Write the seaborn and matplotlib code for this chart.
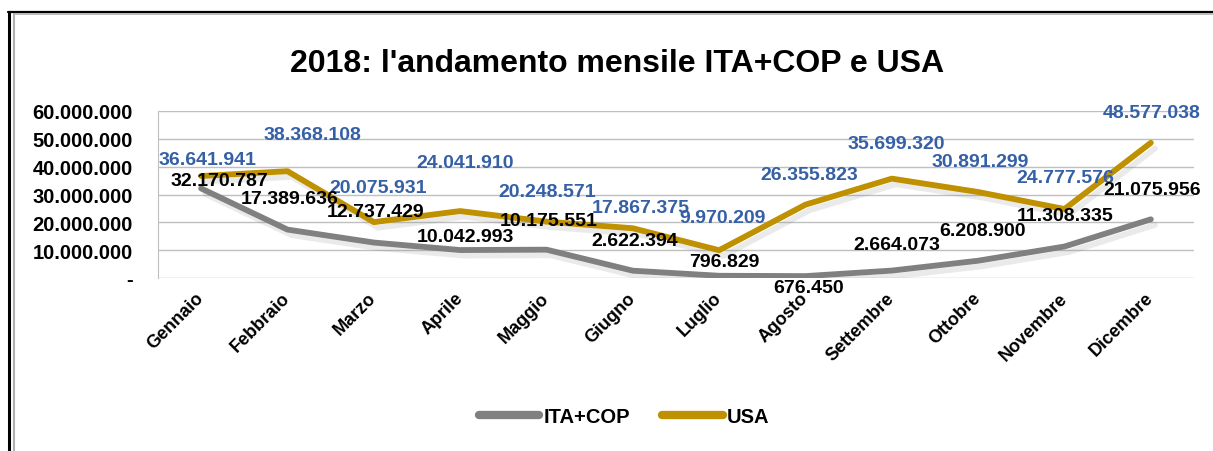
import numpy as np
import pandas as pd
import seaborn as sns
import matplotlib.pyplot as plt
import matplotlib.patheffects as pe
import matplotlib.transforms as mtransforms
from matplotlib.lines import Line2D
from matplotlib.ticker import FuncFormatter

# ----------------------
# Data
# ----------------------
mesi = ["Gennaio", "Febbraio", "Marzo", "Aprile", "Maggio", "Giugno",
        "Luglio", "Agosto", "Settembre", "Ottobre", "Novembre", "Dicembre"]
ita_cop = [32170787, 17389636, 12737429, 10042993, 10175551, 2622394,
           796829, 676450, 2664073, 6208900, 11308335, 21075956]
usa = [36641941, 38368108, 20075931, 24041910, 20248571, 17867375,
       9970209, 26355823, 35699320, 30891299, 24777576, 48577038]
y_ticks = [0, 10000000, 20000000, 30000000, 40000000, 50000000, 60000000]

# label offsets in pixels (dx, dy down), placed by hand like in the excel sheet
usa_off = [(6, -17), (25, -37), (4, -35), (5, -49), (1, -30), (8, -21),
           (3, -33), (4, -30), (4, -35), (2, -31), (1, -32), (1, -30)]
ita_off = [(18, -8), (2, -31), (2, -31), (5, -14), (2, -29), (2, -30),
           (5, -14), (3, 11), (5, -26), (4, -30), (1, -31), (1, -30)]

GRAY = "#808080"
GOLD = "#BF9000"
BLUE = "#3560A6"
GRID = "#BFBFBF"

def fmt(v):
    return f"{int(v):,}".replace(",", ".")

df = pd.DataFrame({
    "Mese": mesi * 2,
    "Valore": ita_cop + usa,
    "Serie": ["ITA+COP"] * len(mesi) + ["USA"] * len(mesi),
})

sns.set_style("white")
plt.rcParams["font.family"] = ["Liberation Sans", "DejaVu Sans"]
plt.rcParams["font.weight"] = "bold"
plt.rcParams["text.color"] = "black"

fig = plt.figure(figsize=(12.13, 4.52), dpi=100)
ax = fig.add_axes([158 / 1213, 1 - 279 / 452, (1194 - 158) / 1213, (279 - 112) / 452])

shadow = [pe.SimpleLineShadow(offset=(3, -4), shadow_color="#777777", alpha=0.15), pe.Normal()]
sns.lineplot(data=df, x="Mese", y="Valore", hue="Serie", sort=False,
             palette={"ITA+COP": GRAY, "USA": GOLD}, linewidth=4.2, ax=ax,
             legend=False, path_effects=shadow, solid_joinstyle="round",
             solid_capstyle="round", zorder=3)

for i, v in enumerate(usa):
    dx, dy = usa_off[i]
    ax.annotate(fmt(v), (i, v), xytext=(dx, -dy), textcoords="offset pixels",
                ha="center", va="center", color=BLUE, fontsize=14,
                fontweight="bold", zorder=5)
for i, v in enumerate(ita_cop):
    dx, dy = ita_off[i]
    ax.annotate(fmt(v), (i, v), xytext=(dx, -dy), textcoords="offset pixels",
                ha="center", va="center", color="black", fontsize=14,
                fontweight="bold", zorder=5)

ax.set_xlim(-0.5, len(mesi) - 0.5)
ax.set_ylim(0, 60000000)
ax.set_yticks(y_ticks)
ax.yaxis.set_major_formatter(FuncFormatter(lambda v, p: "-" if v == 0 else fmt(v)))
ax.set_xticks(range(len(mesi)))
ax.set_xticklabels(mesi, rotation=45, ha="right", va="top", fontsize=13, fontweight="bold")
ax.set_xticks(np.arange(-0.5, len(mesi), 1), minor=True)
ax.tick_params(axis="x", which="major", length=0, pad=8, labelcolor="black")
ax.tick_params(axis="x", which="minor", length=6, color=GRID, width=1)
ax.tick_params(axis="y", length=6, color=GRID, width=1, pad=12, labelsize=14.5,
               labelcolor="black")
for t in ax.get_yticklabels():
    t.set_fontweight("bold")
# nudge month labels a bit to the right, as in excel
shift = mtransforms.ScaledTranslation(6 / 100, 0, fig.dpi_scale_trans)
for t in ax.get_xticklabels():
    t.set_transform(t.get_transform() + shift)
ax.grid(axis="y", color=GRID, linewidth=1)
ax.set_axisbelow(True)
for s in ["top", "right", "bottom"]:
    ax.spines[s].set_visible(False)
ax.spines["left"].set_color(GRID)
ax.set_xlabel("")
ax.set_ylabel("")

fig.text(617 / 1213, 1 - 72 / 452, "2018: l'andamento mensile ITA+COP e USA",
         ha="center", va="baseline", fontsize=23, fontweight="bold", color="black")

handles = [Line2D([], [], color=GRAY, lw=6, solid_capstyle="round"),
           Line2D([], [], color=GOLD, lw=6, solid_capstyle="round")]
fig.legend(handles, ["ITA+COP", "USA"], loc="center", ncol=2, frameon=False,
           bbox_to_anchor=(624 / 1213, 1 - 418 / 452),
           prop={"size": 14.5, "weight": "bold"}, handlelength=3.0,
           handletextpad=0.2, columnspacing=1.6, labelcolor="black")

# chart border (outer black, inner gray), runs off the right and bottom
fig.add_artist(Line2D([8.7 / 1213, 8.7 / 1213], [0, 1 - 12.5 / 452], color="black", lw=2.2))
fig.add_artist(Line2D([8 / 1213, 1], [1 - 13 / 452, 1 - 13 / 452], color="black", lw=1.6))
fig.add_artist(Line2D([14 / 1213, 14 / 1213], [0, 1 - 14.5 / 452], color="#B0B0B0", lw=1.5))
fig.add_artist(Line2D([14 / 1213, 1], [1 - 14.8 / 452, 1 - 14.8 / 452], color="#B0B0B0", lw=1.2))

fig.savefig("out.png", dpi=100)
